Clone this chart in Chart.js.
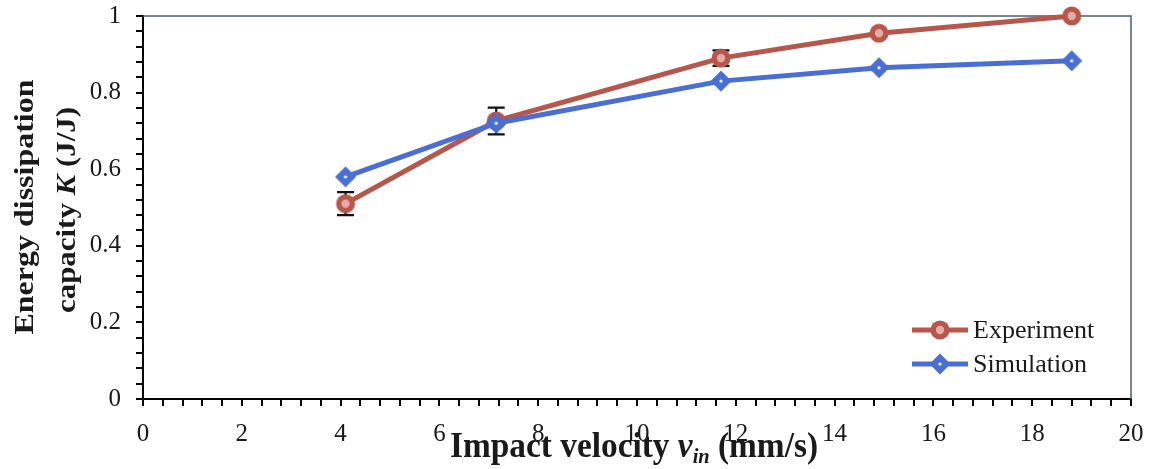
<!DOCTYPE html>
<html><head><meta charset="utf-8">
<script src="https://cdn.jsdelivr.net/npm/chart.js@4.4.1/dist/chart.umd.min.js"></script>
<style>html,body{margin:0;padding:0;background:#fff;}#wrap{width:1153px;height:469px;position:relative;}</style>
</head><body><div id="wrap"><canvas id="c" width="1153" height="469"></canvas></div>
<script>
// ---- data ----
const velocities = [4.1, 7.15, 11.7, 14.9, 18.8];
const experiment = [0.51, 0.726, 0.89, 0.955, 1.0];
const experimentErr = [0.03, 0.035, 0.02, 0, 0];
const simulation = [0.58, 0.72, 0.83, 0.865, 0.883];
const seriesNames = ['Experiment', 'Simulation'];
const xTickLabels = [0, 2, 4, 6, 8, 10, 12, 14, 16, 18, 20];
const yTickLabels = [0, 0.2, 0.4, 0.6, 0.8, 1];
const xTitleParts = [{text:'Impact velocity '}, {text:'v', italic:true}, {text:'in', italic:true, sub:true}, {text:' (mm/s)'}];
const yTitleLine1 = [{text:'Energy dissipation'}];
const yTitleLine2 = [{text:'capacity '}, {text:'K', italic:true}, {text:' (J/J)'}];

// ---- styles ----
const RED = '#b7564a', RED_IN = '#e3aca4', BLUE = '#4a6fd4';
const SERIF = '"Liberation Serif", "Times New Roman", serif';

function makeCircle() {
  const c = document.createElement('canvas'); c.width = 22; c.height = 22;
  const g = c.getContext('2d');
  g.fillStyle = RED; g.beginPath(); g.arc(11, 11, 9.5, 0, Math.PI*2); g.fill();
  g.fillStyle = RED_IN; g.beginPath(); g.arc(11, 11, 4.2, 0, Math.PI*2); g.fill();
  return c;
}
function makeDiamond() {
  const c = document.createElement('canvas'); c.width = 24; c.height = 24;
  const g = c.getContext('2d');
  g.fillStyle = BLUE; g.beginPath();
  g.moveTo(12, 1.5); g.lineTo(22.5, 12); g.lineTo(12, 22.5); g.lineTo(1.5, 12); g.closePath(); g.fill();
  g.fillStyle = '#ffffff'; g.beginPath(); g.arc(12, 12, 1.6, 0, Math.PI*2); g.fill();
  return c;
}
const circleImg = makeCircle();
const diamondImg = makeDiamond();

function tickCb(list) {
  return (v) => {
    const m = list.find(t => Math.abs(t - v) < 1e-6);
    return m === undefined ? '' : String(m);
  };
}
function stepTicks(min, max, step) {
  const out = []; const n = Math.round((max - min) / step);
  for (let i = 0; i <= n; i++) out.push({value: +(min + i * step).toFixed(6)});
  return out;
}

function fontFor(p, size) {
  const s = p.sub ? Math.round(size * 0.6) : size;
  return (p.italic ? 'italic ' : '') + 'bold ' + s + 'px ' + SERIF;
}
function richWidth(ctx, parts, size) {
  let w = 0;
  for (const p of parts) { ctx.font = fontFor(p, size); w += ctx.measureText(p.text).width; }
  return w;
}
function drawRich(ctx, parts, size) {
  let x = 0;
  for (const p of parts) {
    ctx.font = fontFor(p, size);
    ctx.fillText(p.text, x, p.sub ? size * 0.17 : 0);
    x += ctx.measureText(p.text).width;
  }
}

const framePlugin = {
  id: 'frame',
  beforeDatasetsDraw(chart) {
    const {ctx, chartArea: a} = chart;
    ctx.save();
    ctx.strokeStyle = '#4e5c70'; ctx.lineWidth = 1.5;
    ctx.beginPath(); ctx.moveTo(a.left, a.top); ctx.lineTo(a.right, a.top); ctx.lineTo(a.right, a.bottom); ctx.stroke();
    ctx.restore();
  }
};

const errorBarPlugin = {
  id: 'errbars',
  beforeDatasetsDraw(chart) {
    const {ctx, scales: {x, y}} = chart;
    ctx.save();
    ctx.strokeStyle = '#111'; ctx.lineWidth = 2.2;
    velocities.forEach((v, i) => {
      const e = experimentErr[i]; if (!e) return;
      const px = x.getPixelForValue(v);
      const yt = y.getPixelForValue(experiment[i] + e);
      const yb = y.getPixelForValue(experiment[i] - e);
      ctx.beginPath();
      ctx.moveTo(px, yt); ctx.lineTo(px, yb);
      ctx.moveTo(px - 8.5, yt); ctx.lineTo(px + 8.5, yt);
      ctx.moveTo(px - 8.5, yb); ctx.lineTo(px + 8.5, yb);
      ctx.stroke();
    });
    ctx.restore();
  }
};

const titlePlugin = {
  id: 'titles',
  afterDraw(chart) {
    const ctx = chart.ctx;
    ctx.save();
    ctx.fillStyle = '#1a1a1a'; ctx.textAlign = 'left'; ctx.textBaseline = 'alphabetic';
    // x title
    let size = 36, w = richWidth(ctx, xTitleParts, size), target = 368;
    ctx.save(); ctx.translate(634 - target / 2, 457); ctx.scale(target / w, 1);
    drawRich(ctx, xTitleParts, size); ctx.restore();
    // y title
    const lines = [[yTitleLine1, 33, 207, 255], [yTitleLine2, 75, 210, 206]];
    for (const [parts, bx, cy, len] of lines) {
      size = 32; w = richWidth(ctx, parts, size);
      ctx.save(); ctx.translate(bx, cy + len / 2); ctx.rotate(-Math.PI / 2); ctx.scale(len / w, 0.85);
      drawRich(ctx, parts, size); ctx.restore();
    }
    ctx.restore();
  }
};

const legendPlugin = {
  id: 'customLegend',
  afterDraw(chart) {
    const ctx = chart.ctx;
    const rows = [[seriesNames[0], RED, circleImg, 330], [seriesNames[1], BLUE, diamondImg, 364]];
    ctx.save();
    for (const [label, col, img, y] of rows) {
      ctx.strokeStyle = col; ctx.lineWidth = 5;
      ctx.beginPath(); ctx.moveTo(912, y); ctx.lineTo(968, y); ctx.stroke();
      ctx.drawImage(img, 940 - img.width / 2, y - img.height / 2);
      ctx.fillStyle = '#1a1a1a'; ctx.font = '26px ' + SERIF;
      ctx.textAlign = 'left'; ctx.textBaseline = 'middle';
      ctx.fillText(label, 973, y + 1);
    }
    ctx.restore();
  }
};

const axisCommon = {
  type: 'linear',
  grid: {display: true, drawOnChartArea: false, drawTicks: true, tickLength: 7, color: '#000', lineWidth: 2, tickWidth: 2},
  border: {display: true, color: '#000', width: 2}
};

new Chart(document.getElementById('c'), {
  type: 'line',
  data: {
    datasets: [
      {label: seriesNames[0], data: velocities.map((v, i) => ({x: v, y: experiment[i]})),
       borderColor: RED, borderWidth: 5, pointStyle: circleImg, pointRadius: 9, clip: false, order: 2},
      {label: seriesNames[1], data: velocities.map((v, i) => ({x: v, y: simulation[i]})),
       borderColor: BLUE, borderWidth: 5, pointStyle: diamondImg, pointRadius: 10, clip: false, order: 1}
    ]
  },
  options: {
    responsive: false, animation: false, devicePixelRatio: 1, events: [],
    layout: {padding: {left: 0, right: 22, top: 16, bottom: 0}},
    plugins: {legend: {display: false}, tooltip: {enabled: false}},
    scales: {
      x: Object.assign({}, axisCommon, {
        min: 0, max: 20,
        afterBuildTicks: s => { s.ticks = stepTicks(0, 20, 0.4); },
        afterFit: s => { s.height = 70; s.paddingLeft = 0; s.paddingRight = 0; },
        ticks: {autoSkip: false, maxRotation: 0, minRotation: 0, padding: 13, color: '#1a1a1a',
                font: {family: SERIF, size: 25}, callback: tickCb(xTickLabels)}
      }),
      y: Object.assign({}, axisCommon, {
        min: 0, max: 1,
        afterBuildTicks: s => { s.ticks = stepTicks(0, 1, 0.04); },
        afterFit: s => { s.width = 143; s.paddingTop = 0; s.paddingBottom = 0; },
        ticks: {autoSkip: false, padding: 15, color: '#1a1a1a',
                font: {family: SERIF, size: 25}, callback: tickCb(yTickLabels)}
      })
    }
  },
  plugins: [framePlugin, errorBarPlugin, titlePlugin, legendPlugin]
});
</script></body></html>
